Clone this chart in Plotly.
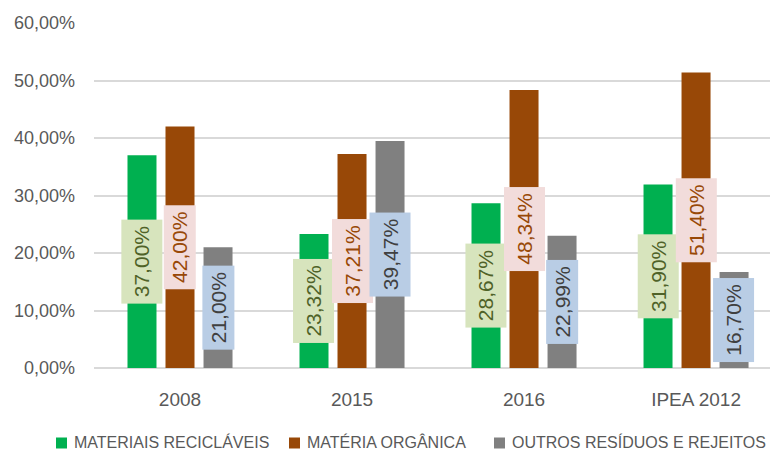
import plotly.graph_objects as go

# Waste composition by survey (percent of total)
categories = ["2008", "2015", "2016", "IPEA 2012"]
reciclaveis = [37.00, 23.32, 28.67, 31.90]
organica = [42.00, 37.21, 48.34, 51.40]
outros = [21.00, 39.47, 22.99, 16.70]

series = [
    ("MATERIAIS RECICLÁVEIS", reciclaveis, "#00B050", "#D7E4BD", "#4F6228"),
    ("MATÉRIA ORGÂNICA", organica, "#984807", "#F2DCDB", "#984807"),
    ("OUTROS RESÍDUOS E REJEITOS", outros, "#808080", "#B9CDE5", "#404040"),
]

FONT = "Liberation Sans"
GREY_TEXT = "#595959"
BARGAP = 0.337
BARGROUPGAP = 0.237

W, H = 770, 451
M_L, M_R, M_T, M_B = 94, 0, 23, 83
PLOT_W = W - M_L - M_R
PLOT_H = H - M_T - M_B

# label boxes that are drawn narrower (series index, category index)
NARROW_BOXES = {(1, 0), (2, 0), (2, 2)}

fig = go.Figure()
for name, vals, color, _, _ in series:
    fig.add_trace(go.Bar(
        name=name,
        x=categories,
        y=[v / 100 for v in vals],
        marker=dict(color=color, line=dict(width=0)),
        showlegend=False,
    ))


def pct(v):
    return f"{v:.2f}".replace(".", ",") + "%"


# Rotated value labels in coloured boxes, centred on each bar
slot = (1 - BARGAP) / len(series)
annotations = []
for s_idx, (name, vals, color, box, txt) in enumerate(series):
    offset = (s_idx - (len(series) - 1) / 2) * slot
    for c_idx, v in enumerate(vals):
        annotations.append(dict(
            x=c_idx + offset, y=v / 200, xref="x", yref="y",
            text=pct(v), showarrow=False, textangle=-90,
            bgcolor=box, borderpad=0, borderwidth=0,
            width=84, height=32 if (s_idx, c_idx) in NARROW_BOXES else 41,
            font=dict(family=FONT, size=21, color=txt),
        ))


# Legend row along the bottom: swatch + caption for each series
def px_x(px):
    return (px - M_L) / PLOT_W


def px_y(py):
    return (H - M_B - py) / PLOT_H


legend_y = 442
swatch = 11
legend_x = [56, 289, 494]
shapes = []
for (name, _, color, _, _), lx in zip(series, legend_x):
    shapes.append(dict(
        type="rect", xref="paper", yref="paper",
        x0=px_x(lx), x1=px_x(lx + swatch),
        y0=px_y(legend_y + 1 + swatch / 2), y1=px_y(legend_y + 1 - swatch / 2),
        fillcolor=color, line=dict(width=0),
    ))
    annotations.append(dict(
        x=px_x(lx + swatch + 5), y=px_y(legend_y), xref="paper", yref="paper",
        text=name, showarrow=False, xanchor="left", yanchor="middle",
        font=dict(family=FONT, size=16, color=GREY_TEXT),
    ))

fig.update_layout(
    width=W, height=H,
    margin=dict(l=M_L, r=M_R, t=M_T, b=M_B),
    paper_bgcolor="white", plot_bgcolor="white",
    barmode="group", bargap=BARGAP, bargroupgap=BARGROUPGAP,
    separators=", ",
    font=dict(family=FONT, color=GREY_TEXT),
    annotations=annotations,
    shapes=shapes,
    showlegend=False,
)
fig.update_xaxes(
    type="category", range=[-0.5, 3.43],
    showgrid=False, showline=False, zeroline=False, ticks="",
    ticklabelstandoff=18,
    tickfont=dict(family=FONT, size=19, color=GREY_TEXT),
)
fig.update_yaxes(
    range=[0, 0.6], dtick=0.1, tickformat=".2%",
    showgrid=True, gridcolor="#D9D9D9", gridwidth=1.5,
    zeroline=True, zerolinecolor="#D9D9D9", zerolinewidth=1.5,
    showline=False, ticks="", ticklabelstandoff=18,
    tickfont=dict(family=FONT, size=18, color=GREY_TEXT),
)

fig.write_html("out.html")
